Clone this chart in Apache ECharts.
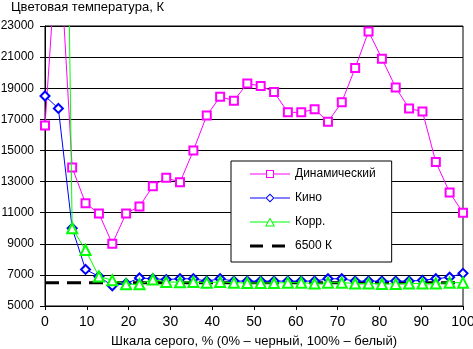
<!DOCTYPE html>
<html>
<head>
<meta charset="utf-8">
<script src="https://cdn.jsdelivr.net/npm/echarts@6/dist/echarts.min.js"></script>
<style>
  html, body { margin: 0; padding: 0; background: #fff; }
  #chart { width: 473px; height: 349px; }
</style>
</head>
<body>
<div id="chart"></div>
<script>
// Grey-scale steps (% signal level) at which colour temperature was measured
const greyLevels = [0, 3.2, 6.5, 9.7, 12.9, 16.1, 19.4, 22.6, 25.8, 29.0, 32.3, 35.5,
  38.7, 41.9, 45.2, 48.4, 51.6, 54.8, 58.1, 61.3, 64.5, 67.7, 71.0, 74.2,
  77.4, 80.6, 83.9, 87.1, 90.3, 93.5, 96.8, 100];

// Colour temperature, K, per picture mode
const dynamicTemp = [16600, 29500, 13900, 11600, 10950, 9000, 10950, 11400, 12700, 13250, 12950, 15000,
  17250, 18450, 18200, 19300, 19150, 18750, 17450, 17450, 17650, 16850, 18100, 20300,
  22650, 20900, 19050, 17700, 17500, 14250, 12300, 11000];

const cinemaTemp = [18500, 17700, 10000, 7350, 6900, 6300, 6450, 6800, 6750, 6700, 6750, 6750,
  6600, 6750, 6600, 6600, 6600, 6600, 6600, 6600, 6600, 6750, 6750, 6600,
  6600, 6600, 6600, 6600, 6650, 6750, 6850, 7100];

const correctedTemp = [60000, 75000, 10000, 8600, 6900, 6650, 6400, 6400, 6700, 6550, 6530, 6550,
  6500, 6550, 6500, 6480, 6480, 6480, 6500, 6500, 6440, 6500, 6500, 6450,
  6450, 6420, 6420, 6450, 6450, 6450, 6500, 6500];

const referenceTemp = 6500;

const yTicks = { min: 5000, max: 23000, step: 2000 };
const xTicks = { min: 0, max: 100, step: 10 };

const seriesNames = ['Динамический', 'Кино', 'Корр.', '6500 К'];
const seriesColors = ['#ff00ff', '#0000ff', '#00ff00', '#000000'];

const pair = (vals) => greyLevels.map((g, i) => [g, vals[i]]);

const font = "'Liberation Sans', Arial, sans-serif";

// Legend swatches: a thin line broken by a hollow marker (inner contour wound
// the other way so it stays open), and two short dashes for the reference line.
const legendIcons = [
  'path://M0,4.5H16V5.5H0ZM24,4.5H40V5.5H24ZM16,1H24V9H16ZM17,2V8H23V2Z',
  'path://M0,4.5H15.5V5.5H0ZM24.5,4.5H40V5.5H24.5ZM20,0.5L24.5,5L20,9.5L15.5,5ZM20,1.9L16.9,5L20,8.1L23.1,5Z',
  'path://M0,4.5H17.5V5.5H0ZM22.5,4.5H40V5.5H22.5ZM20,0.5L25,9.5H15ZM20,2.6L16.7,8.5H23.3Z',
  'path://M0,3.5h13v3h-13zM22,3.5h13v3h-13zM40,0h0.01v10h-0.01z'
];

const legendData = seriesNames.map((name, i) => ({ name, icon: legendIcons[i] }));

const chart = echarts.init(document.getElementById('chart'), null, { renderer: 'canvas' });

chart.setOption({
  animation: false,
  backgroundColor: '#fff',
  textStyle: { fontFamily: font, color: '#000' },
  grid: {
    left: 45, top: 26, width: 418, height: 280,
    containLabel: false, outerBoundsMode: 'none',
    show: true, borderColor: '#000', borderWidth: 1, backgroundColor: 'transparent'
  },
  legend: {
    data: legendData,
    orient: 'vertical',
    left: 231, top: 161,
    padding: [7, 16, 10, 19],
    itemGap: 12,
    itemWidth: 40, itemHeight: 10,
    backgroundColor: '#fff',
    borderColor: '#000', borderWidth: 1, borderRadius: 0,
    textStyle: { fontFamily: font, fontSize: 12, color: '#000' }
  },
  xAxis: {
    type: 'value',
    min: xTicks.min, max: xTicks.max, interval: xTicks.step,
    name: 'Шкала серого, % (0% – черный, 100% – белый)',
    nameLocation: 'middle', nameGap: 29,
    nameTextStyle: { fontFamily: font, fontSize: 13, color: '#000' },
    axisLine: { lineStyle: { color: '#000', width: 1 } },
    axisTick: { show: true, length: 4, lineStyle: { color: '#000' } },
    axisLabel: { fontFamily: font, fontSize: 14, color: '#000', margin: 9 },
    splitLine: { show: false }
  },
  yAxis: {
    type: 'value',
    min: yTicks.min, max: yTicks.max, interval: yTicks.step,
    name: 'Цветовая температура, К',
    nameLocation: 'end', nameGap: 12,
    nameTextStyle: { fontFamily: font, fontSize: 13, color: '#000', align: 'left', padding: [0, 0, 0, -34] },
    axisLine: { show: true, lineStyle: { color: '#000', width: 1 } },
    axisTick: { show: true, length: 5, lineStyle: { color: '#000' } },
    axisLabel: { fontFamily: font, fontSize: 12, color: '#000', margin: 11, formatter: (v) => String(v) },
    splitLine: { show: true, lineStyle: { color: '#000', width: 1 } }
  },
  series: [
    {
      name: seriesNames[0], type: 'line', data: pair(dynamicTemp), z: 3,
      symbol: 'emptyRect', symbolSize: 8,
      itemStyle: { color: seriesColors[0], borderWidth: 1 },
      lineStyle: { color: seriesColors[0], width: 1 }
    },
    {
      name: seriesNames[1], type: 'line', data: pair(cinemaTemp), z: 4,
      symbol: 'emptyDiamond', symbolSize: 9,
      itemStyle: { color: seriesColors[1], borderWidth: 1 },
      lineStyle: { color: seriesColors[1], width: 1 }
    },
    {
      name: seriesNames[2], type: 'line', data: pair(correctedTemp), z: 5,
      symbol: 'emptyTriangle', symbolSize: 10,
      itemStyle: { color: seriesColors[2], borderWidth: 1 },
      lineStyle: { color: seriesColors[2], width: 1 }
    },
    {
      name: seriesNames[3], type: 'line', z: 2,
      data: [[xTicks.min, referenceTemp], [xTicks.max, referenceTemp]],
      symbol: 'none',
      itemStyle: { color: seriesColors[3] },
      lineStyle: { color: seriesColors[3], width: 3, type: [14, 8] }
    }
  ]
});
</script>
</body>
</html>
